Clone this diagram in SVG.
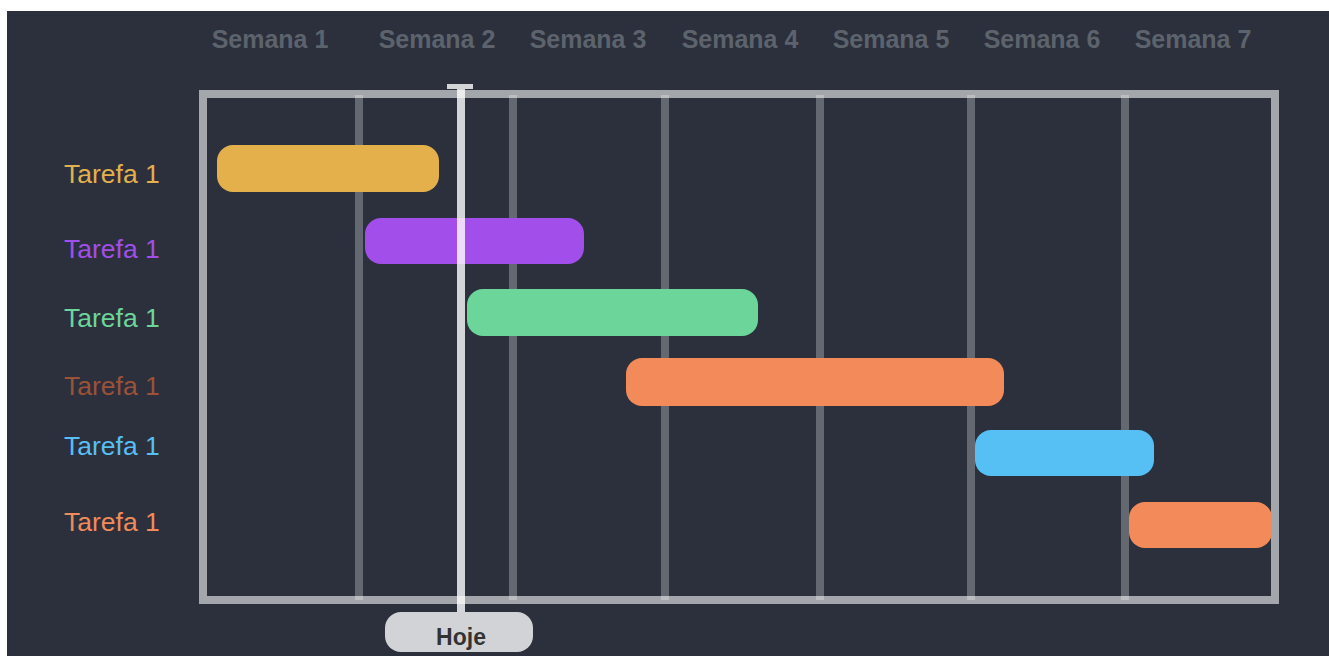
<svg xmlns="http://www.w3.org/2000/svg" width="1329" height="656" viewBox="0 0 1329 656">
  <style>
    .week { font-family: "Liberation Sans", Arial, sans-serif; font-weight: bold; font-size: 25px; fill: #5d636c; text-anchor: middle; }
    .task { font-family: "Liberation Sans", Arial, sans-serif; font-size: 26.5px; }
    .grid { stroke: #ffffff; stroke-opacity: 0.27; stroke-width: 8; }
    .bar { stroke: none; }
  </style>
  <rect x="0" y="0" width="1329" height="656" fill="#ffffff"/>
  <rect x="7" y="11" width="1322" height="645" fill="#2b303c"/>

  <g id="headers">
    <text class="week" x="270" y="48">Semana 1</text>
    <text class="week" x="437" y="48">Semana 2</text>
    <text class="week" x="588" y="48">Semana 3</text>
    <text class="week" x="740" y="48">Semana 4</text>
    <text class="week" x="891" y="48">Semana 5</text>
    <text class="week" x="1042" y="48">Semana 6</text>
    <text class="week" x="1193" y="48">Semana 7</text>
  </g>

  <g id="frame">
    <rect x="203" y="94" width="1072" height="506" fill="none" stroke="#a3a6ab" stroke-width="8"/>
  </g>

  <g id="gridlines">
    <line class="grid" x1="359" y1="95" x2="359" y2="600"/>
    <line class="grid" x1="513" y1="95" x2="513" y2="600"/>
    <line class="grid" x1="665" y1="95" x2="665" y2="600"/>
    <line class="grid" x1="820" y1="95" x2="820" y2="600"/>
    <line class="grid" x1="971" y1="95" x2="971" y2="600"/>
    <line class="grid" x1="1125" y1="95" x2="1125" y2="600"/>
  </g>

  <g id="task1">
    <text class="task" x="64" y="183" fill="#e4b04c">Tarefa 1</text>
    <rect class="bar" x="217" y="145" width="222" height="47" rx="16" fill="#e4b04c"/>
  </g>
  <g id="task2">
    <text class="task" x="64" y="258" fill="#a24eea">Tarefa 1</text>
    <rect class="bar" x="365" y="218" width="219" height="46" rx="16" fill="#a24eea"/>
  </g>
  <g id="task3">
    <text class="task" x="64" y="327" fill="#6cd69a">Tarefa 1</text>
    <rect class="bar" x="467" y="289" width="291" height="47" rx="16" fill="#6cd69a"/>
  </g>
  <g id="task4">
    <text class="task" x="64" y="395" fill="#9c5238">Tarefa 1</text>
    <rect class="bar" x="626" y="358" width="378" height="48" rx="16" fill="#f28a5a"/>
  </g>
  <g id="task5">
    <text class="task" x="64" y="455" fill="#56bff4">Tarefa 1</text>
    <rect class="bar" x="975" y="430" width="179" height="46" rx="16" fill="#56bff4"/>
  </g>
  <g id="task6">
    <text class="task" x="64" y="531" fill="#f28a5a">Tarefa 1</text>
    <rect class="bar" x="1129" y="502" width="143" height="46" rx="16" fill="#f28a5a"/>
  </g>

  <g id="today">
    <line x1="461" y1="86" x2="461" y2="613" stroke="#ffffff" stroke-opacity="0.8" stroke-width="8"/>
    <rect x="447" y="84" width="26" height="5" fill="#d3d4d6"/>
    <rect x="385" y="612" width="148" height="40" rx="16" fill="#d2d3d6"/>
    <text x="461" y="645" font-family="Liberation Sans, Arial, sans-serif" font-weight="bold" font-size="23" fill="#333333" text-anchor="middle">Hoje</text>
  </g>
</svg>
